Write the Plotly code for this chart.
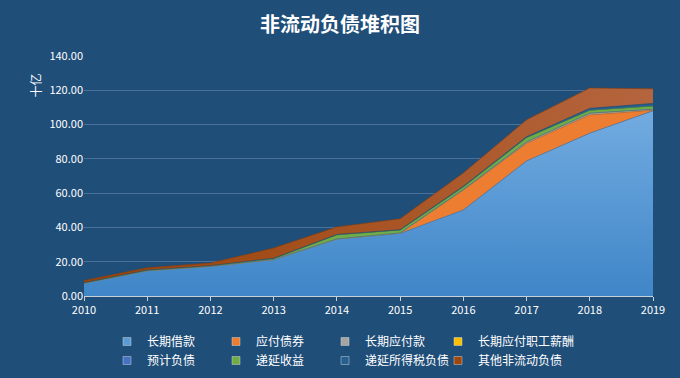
import plotly.graph_objects as go

years = [2010, 2011, 2012, 2013, 2014, 2015, 2016, 2017, 2018, 2019]
long_loan = [7.5, 14.8, 17.3, 21.3, 33.3, 36.5, 50.2, 78.8, 95.0, 108.0]
bonds = [0, 0, 0, 0, 0, 0.3, 11.5, 10.2, 10.6, 0.3]
lt_payable = [0, 0, 0, 0, 0, 0, 0.4, 0.8, 1.0, 0.6]
lt_salary = [0, 0, 0, 0, 0, 0, 0, 0.05, 0.05, 0.05]
provisions = [0, 0, 0, 0, 0, 0, 0, 0, 0, 0]
deferred_income = [0.1, 0.2, 0.3, 0.5, 2.3, 1.6, 1.5, 2.4, 1.6, 1.8]
deferred_tax = [0.1, 0.1, 0.1, 0.2, 0.3, 0.3, 0.4, 0.6, 1.2, 1.6]
other = [1.3, 1.4, 1.5, 6.0, 4.4, 6.3, 7.8, 9.9, 11.9, 8.5]

names = ["长期借款", "应付债券", "长期应付款", "长期应付职工薪酬",
         "预计负债", "递延收益", "递延所得税负债", "其他非流动负债"]
series = [long_loan, bonds, lt_payable, lt_salary, provisions,
          deferred_income, deferred_tax, other]
colors = ["#5B9BD5", "#ED7D31", "#A5A5A5", "#FFC000",
          "#4472C4", "#70AD47", "#255E91", "#9E480E"]
line_colors = ["#3A78B5", "#D0651C", "#8C8C8C", "#D9A300",
               "#3560A8", "#5A9038", "#1D4B75", "#8A3E0B"]

BG = "#1F4E79"
W, H = 680, 378
fig = go.Figure()

for i, (n, s) in enumerate(zip(names, series)):
    kw = dict(fillcolor=colors[i])
    if i == 0:
        kw = dict(fillgradient=dict(type="vertical",
                                    colorscale=[[0, "#3F86C8"], [1, "#72ABE0"]]))
    elif i == 7:
        kw = dict(fillgradient=dict(type="horizontal",
                                    colorscale=[[0, "#9A4208"], [1, "#B5653E"]]))
    fig.add_trace(go.Scatter(
        x=years, y=s, name=n, stackgroup="one", mode="lines",
        line=dict(width=0.6, color=line_colors[i]),
        showlegend=False, hoverinfo="skip", **kw))

# one vertical legend per column (4 columns x 2 rows)
legend_ids = ["legend", "legend2", "legend3", "legend4",
              "legend", "legend2", "legend3", "legend4"]
for n, c, lid in zip(names, colors, legend_ids):
    fig.add_trace(go.Scatter(
        x=[None], y=[None], name=n, mode="markers", legend=lid,
        marker=dict(symbol="square", size=8, color=c,
                    line=dict(width=0.5, color="#D0D0D0"))))

leg_common = dict(orientation="v", xref="container", yref="container",
                  xanchor="left", yanchor="top", traceorder="normal",
                  font=dict(size=12, color="#FFFFFF"), bgcolor="rgba(0,0,0,0)",
                  itemwidth=30, tracegroupgap=0, y=1 - 327 / H)
col_x = [107, 216, 325, 438]

fig.update_layout(
    width=W, height=H,
    paper_bgcolor=BG, plot_bgcolor=BG,
    margin=dict(l=84, r=27, t=56, b=82, autoexpand=False),
    font=dict(family="Noto Sans CJK SC, Noto Sans, sans-serif", color="#FFFFFF", size=11),
    title=dict(text="<b>非流动负债堆积图</b>", x=0.5, xanchor="center",
               yref="container", y=1 - 25 / H, yanchor="middle",
               font=dict(size=20, color="#FFFFFF")),
    xaxis=dict(range=[2010, 2019], tickmode="array", tickvals=years,
               ticktext=[str(y) for y in years], showgrid=False, zeroline=False,
               showline=True, linecolor="#C8D0D8", linewidth=1,
               ticks="outside", ticklen=4, tickcolor="#C8D0D8",
               tickfont=dict(size=11, color="#FFFFFF")),
    yaxis=dict(range=[0, 140], dtick=20, tickformat=".2f",
               showgrid=True, gridcolor="#4A7199", gridwidth=1, zeroline=False,
               showline=False, ticks="", tickfont=dict(size=11, color="#FFFFFF")),
    legend=dict(x=col_x[0] / W, **leg_common),
    legend2=dict(x=col_x[1] / W, **leg_common),
    legend3=dict(x=col_x[2] / W, **leg_common),
    legend4=dict(x=col_x[3] / W, **leg_common),
    annotations=[dict(text="十亿", x=(24 - 84) / (W - 84 - 27),
                      y=(296 - 72) / (H - 56 - 82), xref="paper", yref="paper",
                      showarrow=False, textangle=-90,
                      font=dict(size=12, color="#FFFFFF"))],
)

fig.write_html("out.html", config={"displayModeBar": False},
               post_script="document.body.style.margin='0';"
                           "document.body.style.background='#1F4E79';"
                           "document.body.style.overflow='hidden';")
